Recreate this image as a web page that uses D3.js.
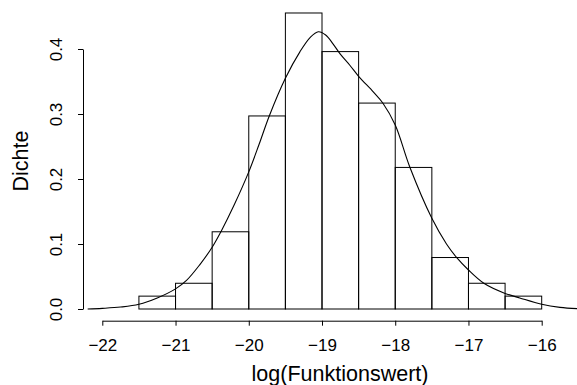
<!DOCTYPE html>
<html>
<head>
<meta charset="utf-8">
<script src="https://cdn.jsdelivr.net/npm/d3@7"></script>
<style>
  html, body { margin: 0; padding: 0; background: #fff; }
  svg { display: block; }
  text { font-family: "Liberation Sans", Arial, Helvetica, sans-serif; fill: #000; }
</style>
</head>
<body>
<div id="chart"></div>
<script>
// Histogram breaks (bin width 0.5) and densities of log(Funktionswert)
const breaks = [-21.5, -21, -20.5, -20, -19.5, -19, -18.5, -18, -17.5, -17, -16.5, -16];
const density = [0.0198, 0.0396, 0.1188, 0.297, 0.4554, 0.396, 0.3168, 0.2178, 0.0792, 0.0396, 0.0198];

// Kernel density estimate, sampled along x
const kdeX = [-22.2, -22.0, -21.75, -21.5, -21.25, -21.0, -20.85, -20.67, -20.5, -20.38, -20.2, -20.0,
              -19.86, -19.72, -19.5, -19.3, -19.16, -19.05, -18.95, -18.85, -18.75, -18.62, -18.5,
              -18.3, -18.17, -18.0, -17.8, -17.5, -17.3, -17.16, -17.0, -16.79, -16.5, -16.3, -16.0,
              -15.75, -15.5];
const kdeY = [0.0, 0.001, 0.003, 0.0072, 0.017, 0.031, 0.044, 0.068, 0.095, 0.119, 0.160, 0.211,
              0.253, 0.297, 0.355, 0.396, 0.418, 0.4266, 0.4216, 0.408, 0.392, 0.375, 0.358,
              0.334, 0.317, 0.283, 0.218, 0.1395, 0.100, 0.079, 0.060, 0.0396, 0.024, 0.017, 0.0072,
              0.0025, 0.0005];

// Axis ticks
const xTicks = [-22, -21, -20, -19, -18, -17, -16];
const yTicks = [0.0, 0.1, 0.2, 0.3, 0.4];

const W = 577, H = 385;
const svg = d3.select("#chart").append("svg").attr("width", W).attr("height", H);

const x = d3.scaleLinear().domain([-22, -16]).range([102.3, 541.7]);
const y = d3.scaleLinear().domain([0, 0.4]).range([309, 49]);

const axisX = 320.7, axisY = 83;

// Bars
const bins = density.map((d, i) => ({ x0: breaks[i], x1: breaks[i + 1], d }));
svg.append("g")
  .selectAll("rect")
  .data(bins)
  .join("rect")
  .attr("x", b => x(b.x0))
  .attr("y", b => y(b.d))
  .attr("width", b => x(b.x1) - x(b.x0))
  .attr("height", b => y(0) - y(b.d))
  .attr("fill", "none")
  .attr("stroke", "#000")
  .attr("stroke-width", 1);

// Density curve
const line = d3.line()
  .x((d, i) => x(kdeX[i]))
  .y((d, i) => y(kdeY[i]))
  .curve(d3.curveCatmullRom.alpha(0.5));
svg.append("path")
  .attr("d", line(kdeX))
  .attr("fill", "none")
  .attr("stroke", "#000")
  .attr("stroke-width", 1.1);

// X axis
const gx = svg.append("g")
  .attr("transform", `translate(0,${axisX})`)
  .call(d3.axisBottom(x).tickValues(xTicks).tickSize(5).tickSizeOuter(0)
    .tickFormat(v => String(v).replace("-", "\u2212")));
gx.selectAll("path, line").attr("stroke", "#000");
gx.selectAll("text")
  .attr("y", 30.3).attr("dy", null)
  .style("font-size", "17px");

// Y axis, labels turned parallel to the axis
const gy = svg.append("g")
  .attr("transform", `translate(${axisY},0)`)
  .call(d3.axisLeft(y).tickValues(yTicks).tickSize(5).tickSizeOuter(0)
    .tickFormat(d3.format(".1f")));
gy.selectAll("path, line").attr("stroke", "#000");
gy.selectAll("text")
  .attr("dy", null)
  .attr("text-anchor", "middle")
  .attr("transform", "translate(-21.5,0) rotate(-90)")
  .attr("x", 0).attr("y", 0)
  .style("font-size", "17px");

// Axis titles
svg.append("text")
  .attr("x", 340).attr("y", 381)
  .attr("text-anchor", "middle")
  .style("font-size", "21.5px")
  .text("log(Funktionswert)");

svg.append("text")
  .attr("transform", "translate(28,161) rotate(-90)")
  .attr("text-anchor", "middle")
  .style("font-size", "21.5px")
  .text("Dichte");
</script>
</body>
</html>
